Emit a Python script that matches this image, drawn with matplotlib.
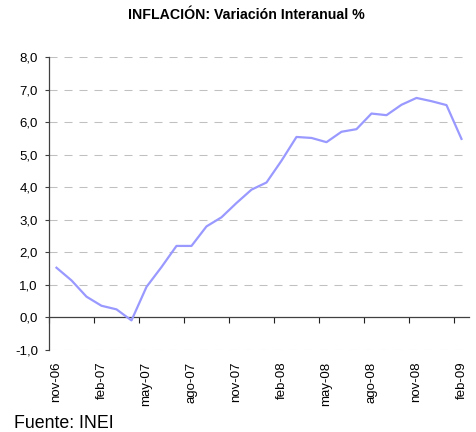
import matplotlib
matplotlib.use('Agg')
import matplotlib.pyplot as plt
import numpy as np

plt.rcParams['font.family'] = ['Liberation Sans', 'DejaVu Sans']

# monthly year-on-year inflation, nov-06 .. feb-09
meses = ['nov-06', 'dic-06', 'ene-07', 'feb-07', 'mar-07', 'abr-07', 'may-07',
         'jun-07', 'jul-07', 'ago-07', 'sep-07', 'oct-07', 'nov-07', 'dic-07',
         'ene-08', 'feb-08', 'mar-08', 'abr-08', 'may-08', 'jun-08', 'jul-08',
         'ago-08', 'sep-08', 'oct-08', 'nov-08', 'dic-08', 'ene-09', 'feb-09']
inflacion = [1.53, 1.14, 0.64, 0.36, 0.25, -0.09, 0.94, 1.55, 2.20, 2.20,
             2.80, 3.08, 3.52, 3.93, 4.15, 4.82, 5.55, 5.52, 5.39, 5.71,
             5.79, 6.27, 6.22, 6.54, 6.75, 6.65, 6.53, 5.49]
yticks = [-1, 0, 1, 2, 3, 4, 5, 6, 7, 8]
ytick_labels = ['-1,0', '0,0', '1,0', '2,0', '3,0', '4,0', '5,0', '6,0', '7,0', '8,0']

fig = plt.figure(figsize=(4.77, 4.32), dpi=100)
ax = fig.add_axes([0.1027, 0.1898, 0.8805, 0.6776])

x = np.arange(len(meses))
ax.set_xlim(-0.5, len(meses) - 0.5)
ax.set_ylim(-1, 8)

# dashed grid, skipping the zero line
for v in yticks:
    if v != 0:
        ax.axhline(v, color='#c0c0c0', lw=0.75, ls=(0, (7.7, 6.7)), zorder=1)

ax.plot(x, inflacion, color='#9999ff', lw=1.6, zorder=3)

ax.spines['top'].set_visible(False)
ax.spines['right'].set_visible(False)
ax.spines['bottom'].set_visible(False)
ax.spines['left'].set_color('#404040')
ax.spines['left'].set_linewidth(0.9)

ax.set_yticks(yticks)
ax.set_yticklabels(ytick_labels)
ax.tick_params(axis='y', direction='out', length=3, width=0.8, color='#404040',
               labelsize=9.5, pad=5)

ax.set_xticks(x[::3])
ax.set_xticklabels(meses[::3], rotation=90, va='top', ha='center')
ax.tick_params(axis='x', length=0, labelsize=9.5, pad=8.5)

# category axis drawn at zero with ticks between groups
sec = ax.secondary_xaxis(1 / 9)
sec.spines['bottom'].set_color('#404040')
sec.spines['bottom'].set_linewidth(0.9)
sec.set_xticks(np.arange(-0.5, len(meses) - 0.5, 3))
sec.set_xticklabels([])
sec.tick_params(direction='out', length=4, width=0.8, color='#202020')

fig.text(0.516, 0.966, 'INFLACIÓN: Variación Interanual %', fontsize=10.2,
         fontweight='bold', ha='center', va='center')
fig.text(0.03, 0.01, 'Fuente: INEI', fontsize=12.8, ha='left', va='baseline')

plt.savefig('out.png', dpi=100)
